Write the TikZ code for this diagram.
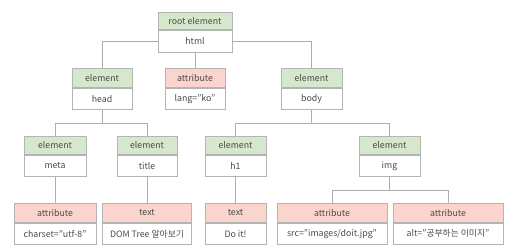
\documentclass[tikz,border=0pt]{standalone}
\usepackage{fontspec}
\setmainfont{Noto Sans CJK KR}
\usepackage{tikz}
\usetikzlibrary{positioning}
\definecolor{elemfill}{HTML}{D5E8CC}
\definecolor{attrfill}{HTML}{FAD4CD}
\definecolor{boxline}{HTML}{B4B4B4}
\definecolor{linkline}{HTML}{ADADAD}
\definecolor{labeltext}{HTML}{4A4A4A}

\begin{document}
\begin{tikzpicture}[x=1pt, y=-1pt,
  head/.style={draw=boxline, line width=0.8pt, anchor=north, minimum width=61pt, minimum height=18pt, inner sep=1pt, align=center, font=\fontsize{8.8}{10}\selectfont, text=labeltext},
  elem/.style={head, fill=elemfill},
  attr/.style={head, fill=attrfill},
  val/.style={draw=boxline, line width=0.8pt, fill=white, minimum width=61pt, minimum height=21pt, inner sep=1pt, align=center, font=\fontsize{8.8}{10}\selectfont, text=labeltext},
  link/.style={draw=linkline, line width=0.8pt}
]
  \useasboundingbox (0,0) rectangle (510,249);

  % level 0
  \node[elem, minimum width=74pt, minimum height=17pt] (rootH) at (195,12) {root element};
  \node[val, minimum width=74pt, minimum height=22pt, below=0pt of rootH] (root) {html};

  % level 1
  \node[elem, minimum width=60pt, minimum height=19pt] (headH) at (102,68) {element};
  \node[val, minimum width=60pt, below=0pt of headH] (head) {head};
  \node[attr, minimum width=60pt, minimum height=19pt] (langH) at (195,68) {attribute};
  \node[val, minimum width=60pt, below=0pt of langH] (lang) {lang="ko"};
  \node[elem, minimum height=19pt] (bodyH) at (311.5,68) {element};
  \node[val, below=0pt of bodyH] (body) {body};

  % level 2
  \node[elem, minimum width=62pt] (metaH) at (55,136) {element};
  \node[val, minimum width=62pt, below=0pt of metaH] (meta) {meta};
  \node[elem, minimum width=60pt] (titleH) at (147,136) {element};
  \node[val, minimum width=60pt, below=0pt of titleH] (title) {title};
  \node[elem] (h1H) at (235.5,136) {element};
  \node[val, below=0pt of h1H] (h1) {h1};
  \node[elem] (imgH) at (389.5,136) {element};
  \node[val, below=0pt of imgH] (img) {img};

  % level 3
  \node[attr, minimum width=82pt, minimum height=19pt] (charsetH) at (55,203) {attribute};
  \node[val, minimum width=82pt, below=0pt of charsetH] (charset) {charset="utf-8"};
  \node[attr, minimum width=89pt, minimum height=19pt] (domH) at (147,203) {text};
  \node[val, minimum width=89pt, below=0pt of domH] (dom) {DOM Tree 알아보기};
  \node[attr, minimum height=19pt] (doitH) at (235.5,203) {text};
  \node[val, below=0pt of doitH] (doit) {Do it!};
  \node[attr, minimum width=110pt, minimum height=19pt] (srcH) at (332,203) {attribute};
  \node[val, minimum width=110pt, below=0pt of srcH] (src) {src="images/doit.jpg"};
  \node[attr, minimum width=110pt, minimum height=19pt] (altH) at (448,203) {attribute};
  \node[val, minimum width=110pt, below=0pt of altH] (alt) {alt="공부하는 이미지"};

  % connectors
  \draw[link] (root.west) -| (headH.north);
  \draw[link] (root.east) -| (bodyH.north);
  \draw[link] (root.south) -- (langH.north);
  \draw[link] (head.south) -- ++(0,14) -| (metaH.north);
  \draw[link] (head.south) -- ++(0,14) -| (titleH.north);
  \draw[link] (body.south) -- ++(0,14) -| (h1H.north);
  \draw[link] (body.south) -- ++(0,14) -| (imgH.north);
  \draw[link] (meta.south) -- (charsetH.north);
  \draw[link] (title.south) -- (domH.north);
  \draw[link] (h1.south) -- (doitH.north);
  \draw[link] (img.south) -- ++(0,14) -| (srcH.north);
  \draw[link] (img.south) -- ++(0,14) -| (altH.north);
\end{tikzpicture}
\end{document}
